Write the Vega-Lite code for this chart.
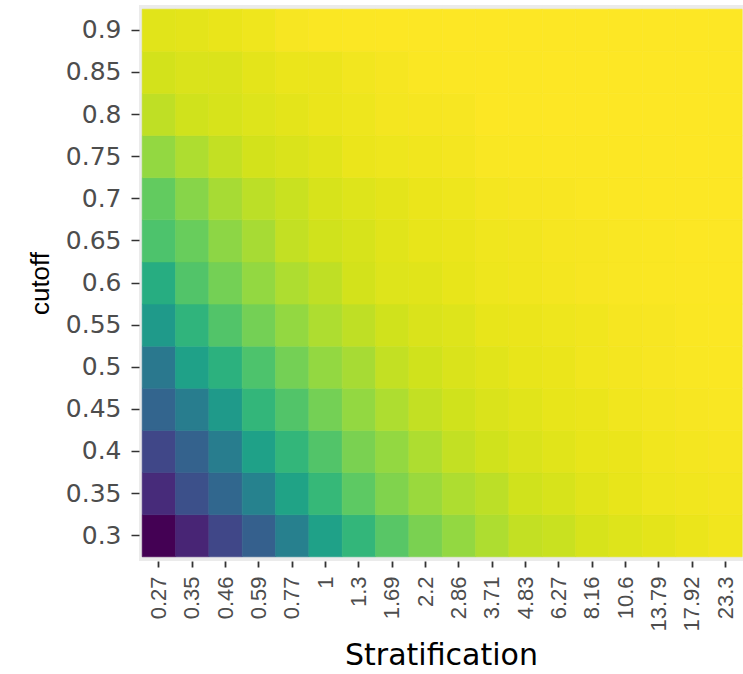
{
  "$schema": "https://vega.github.io/schema/vega-lite/v6.json",
  "width": 604,
  "height": 556,
  "autosize": {"type": "none"},
  "padding": {"left": 139, "top": 5, "right": 0, "bottom": 113},
  "background": "white",
  "config": {"view": {"fill": "#EBEBEB", "stroke": null}},
  "data": {"values": [
    {"Stratification":"0.27","cutoff":0.3,"value":0.00},{"Stratification":"0.35","cutoff":0.3,"value":0.10},{"Stratification":"0.46","cutoff":0.3,"value":0.21},{"Stratification":"0.59","cutoff":0.3,"value":0.30},{"Stratification":"0.77","cutoff":0.3,"value":0.43},{"Stratification":"1","cutoff":0.3,"value":0.57},{"Stratification":"1.3","cutoff":0.3,"value":0.66},{"Stratification":"1.69","cutoff":0.3,"value":0.74},{"Stratification":"2.2","cutoff":0.3,"value":0.80},{"Stratification":"2.86","cutoff":0.3,"value":0.84},{"Stratification":"3.71","cutoff":0.3,"value":0.88},{"Stratification":"4.83","cutoff":0.3,"value":0.91},{"Stratification":"6.27","cutoff":0.3,"value":0.92},{"Stratification":"8.16","cutoff":0.3,"value":0.94},{"Stratification":"10.6","cutoff":0.3,"value":0.95},{"Stratification":"13.79","cutoff":0.3,"value":0.96},{"Stratification":"17.92","cutoff":0.3,"value":0.97},{"Stratification":"23.3","cutoff":0.3,"value":0.98},
    {"Stratification":"0.27","cutoff":0.35,"value":0.12},{"Stratification":"0.35","cutoff":0.35,"value":0.24},{"Stratification":"0.46","cutoff":0.35,"value":0.33},{"Stratification":"0.59","cutoff":0.35,"value":0.44},{"Stratification":"0.77","cutoff":0.35,"value":0.58},{"Stratification":"1","cutoff":0.35,"value":0.67},{"Stratification":"1.3","cutoff":0.35,"value":0.75},{"Stratification":"1.69","cutoff":0.35,"value":0.81},{"Stratification":"2.2","cutoff":0.35,"value":0.85},{"Stratification":"2.86","cutoff":0.35,"value":0.88},{"Stratification":"3.71","cutoff":0.35,"value":0.90},{"Stratification":"4.83","cutoff":0.35,"value":0.93},{"Stratification":"6.27","cutoff":0.35,"value":0.94},{"Stratification":"8.16","cutoff":0.35,"value":0.955},{"Stratification":"10.6","cutoff":0.35,"value":0.965},{"Stratification":"13.79","cutoff":0.35,"value":0.975},{"Stratification":"17.92","cutoff":0.35,"value":0.98},{"Stratification":"23.3","cutoff":0.35,"value":0.985},
    {"Stratification":"0.27","cutoff":0.4,"value":0.21},{"Stratification":"0.35","cutoff":0.4,"value":0.31},{"Stratification":"0.46","cutoff":0.4,"value":0.42},{"Stratification":"0.59","cutoff":0.4,"value":0.57},{"Stratification":"0.77","cutoff":0.4,"value":0.66},{"Stratification":"1","cutoff":0.4,"value":0.73},{"Stratification":"1.3","cutoff":0.4,"value":0.80},{"Stratification":"1.69","cutoff":0.4,"value":0.84},{"Stratification":"2.2","cutoff":0.4,"value":0.88},{"Stratification":"2.86","cutoff":0.4,"value":0.91},{"Stratification":"3.71","cutoff":0.4,"value":0.93},{"Stratification":"4.83","cutoff":0.4,"value":0.945},{"Stratification":"6.27","cutoff":0.4,"value":0.955},{"Stratification":"8.16","cutoff":0.4,"value":0.965},{"Stratification":"10.6","cutoff":0.4,"value":0.97},{"Stratification":"13.79","cutoff":0.4,"value":0.98},{"Stratification":"17.92","cutoff":0.4,"value":0.985},{"Stratification":"23.3","cutoff":0.4,"value":0.99},
    {"Stratification":"0.27","cutoff":0.45,"value":0.32},{"Stratification":"0.35","cutoff":0.45,"value":0.42},{"Stratification":"0.46","cutoff":0.45,"value":0.54},{"Stratification":"0.59","cutoff":0.45,"value":0.66},{"Stratification":"0.77","cutoff":0.45,"value":0.73},{"Stratification":"1","cutoff":0.45,"value":0.79},{"Stratification":"1.3","cutoff":0.45,"value":0.84},{"Stratification":"1.69","cutoff":0.45,"value":0.88},{"Stratification":"2.2","cutoff":0.45,"value":0.91},{"Stratification":"2.86","cutoff":0.45,"value":0.93},{"Stratification":"3.71","cutoff":0.45,"value":0.945},{"Stratification":"4.83","cutoff":0.45,"value":0.955},{"Stratification":"6.27","cutoff":0.45,"value":0.965},{"Stratification":"8.16","cutoff":0.45,"value":0.97},{"Stratification":"10.6","cutoff":0.45,"value":0.98},{"Stratification":"13.79","cutoff":0.45,"value":0.985},{"Stratification":"17.92","cutoff":0.45,"value":0.99},{"Stratification":"23.3","cutoff":0.45,"value":0.993},
    {"Stratification":"0.27","cutoff":0.5,"value":0.40},{"Stratification":"0.35","cutoff":0.5,"value":0.57},{"Stratification":"0.46","cutoff":0.5,"value":0.64},{"Stratification":"0.59","cutoff":0.5,"value":0.72},{"Stratification":"0.77","cutoff":0.5,"value":0.79},{"Stratification":"1","cutoff":0.5,"value":0.84},{"Stratification":"1.3","cutoff":0.5,"value":0.87},{"Stratification":"1.69","cutoff":0.5,"value":0.91},{"Stratification":"2.2","cutoff":0.5,"value":0.93},{"Stratification":"2.86","cutoff":0.5,"value":0.945},{"Stratification":"3.71","cutoff":0.5,"value":0.955},{"Stratification":"4.83","cutoff":0.5,"value":0.965},{"Stratification":"6.27","cutoff":0.5,"value":0.97},{"Stratification":"8.16","cutoff":0.5,"value":0.98},{"Stratification":"10.6","cutoff":0.5,"value":0.985},{"Stratification":"13.79","cutoff":0.5,"value":0.99},{"Stratification":"17.92","cutoff":0.5,"value":0.993},{"Stratification":"23.3","cutoff":0.5,"value":0.995},
    {"Stratification":"0.27","cutoff":0.55,"value":0.54},{"Stratification":"0.35","cutoff":0.55,"value":0.65},{"Stratification":"0.46","cutoff":0.55,"value":0.73},{"Stratification":"0.59","cutoff":0.55,"value":0.79},{"Stratification":"0.77","cutoff":0.55,"value":0.84},{"Stratification":"1","cutoff":0.55,"value":0.88},{"Stratification":"1.3","cutoff":0.55,"value":0.905},{"Stratification":"1.69","cutoff":0.55,"value":0.93},{"Stratification":"2.2","cutoff":0.55,"value":0.945},{"Stratification":"2.86","cutoff":0.55,"value":0.95},{"Stratification":"3.71","cutoff":0.55,"value":0.965},{"Stratification":"4.83","cutoff":0.55,"value":0.97},{"Stratification":"6.27","cutoff":0.55,"value":0.975},{"Stratification":"8.16","cutoff":0.55,"value":0.98},{"Stratification":"10.6","cutoff":0.55,"value":0.988},{"Stratification":"13.79","cutoff":0.55,"value":0.99},{"Stratification":"17.92","cutoff":0.55,"value":0.995},{"Stratification":"23.3","cutoff":0.55,"value":0.997},
    {"Stratification":"0.27","cutoff":0.6,"value":0.62},{"Stratification":"0.35","cutoff":0.6,"value":0.73},{"Stratification":"0.46","cutoff":0.6,"value":0.79},{"Stratification":"0.59","cutoff":0.6,"value":0.84},{"Stratification":"0.77","cutoff":0.6,"value":0.88},{"Stratification":"1","cutoff":0.6,"value":0.905},{"Stratification":"1.3","cutoff":0.6,"value":0.935},{"Stratification":"1.69","cutoff":0.6,"value":0.95},{"Stratification":"2.2","cutoff":0.6,"value":0.955},{"Stratification":"2.86","cutoff":0.6,"value":0.965},{"Stratification":"3.71","cutoff":0.6,"value":0.975},{"Stratification":"4.83","cutoff":0.6,"value":0.98},{"Stratification":"6.27","cutoff":0.6,"value":0.985},{"Stratification":"8.16","cutoff":0.6,"value":0.99},{"Stratification":"10.6","cutoff":0.6,"value":0.993},{"Stratification":"13.79","cutoff":0.6,"value":0.995},{"Stratification":"17.92","cutoff":0.6,"value":0.997},{"Stratification":"23.3","cutoff":0.6,"value":0.998},
    {"Stratification":"0.27","cutoff":0.65,"value":0.72},{"Stratification":"0.35","cutoff":0.65,"value":0.77},{"Stratification":"0.46","cutoff":0.65,"value":0.83},{"Stratification":"0.59","cutoff":0.65,"value":0.87},{"Stratification":"0.77","cutoff":0.65,"value":0.91},{"Stratification":"1","cutoff":0.65,"value":0.93},{"Stratification":"1.3","cutoff":0.65,"value":0.94},{"Stratification":"1.69","cutoff":0.65,"value":0.955},{"Stratification":"2.2","cutoff":0.65,"value":0.965},{"Stratification":"2.86","cutoff":0.65,"value":0.97},{"Stratification":"3.71","cutoff":0.65,"value":0.978},{"Stratification":"4.83","cutoff":0.65,"value":0.982},{"Stratification":"6.27","cutoff":0.65,"value":0.988},{"Stratification":"8.16","cutoff":0.65,"value":0.99},{"Stratification":"10.6","cutoff":0.65,"value":0.993},{"Stratification":"13.79","cutoff":0.65,"value":0.995},{"Stratification":"17.92","cutoff":0.65,"value":0.998},{"Stratification":"23.3","cutoff":0.65,"value":0.999},
    {"Stratification":"0.27","cutoff":0.7,"value":0.76},{"Stratification":"0.35","cutoff":0.7,"value":0.82},{"Stratification":"0.46","cutoff":0.7,"value":0.87},{"Stratification":"0.59","cutoff":0.7,"value":0.90},{"Stratification":"0.77","cutoff":0.7,"value":0.92},{"Stratification":"1","cutoff":0.7,"value":0.94},{"Stratification":"1.3","cutoff":0.7,"value":0.95},{"Stratification":"1.69","cutoff":0.7,"value":0.96},{"Stratification":"2.2","cutoff":0.7,"value":0.97},{"Stratification":"2.86","cutoff":0.7,"value":0.975},{"Stratification":"3.71","cutoff":0.7,"value":0.985},{"Stratification":"4.83","cutoff":0.7,"value":0.99},{"Stratification":"6.27","cutoff":0.7,"value":0.991},{"Stratification":"8.16","cutoff":0.7,"value":0.995},{"Stratification":"10.6","cutoff":0.7,"value":0.997},{"Stratification":"13.79","cutoff":0.7,"value":0.998},{"Stratification":"17.92","cutoff":0.7,"value":0.999},{"Stratification":"23.3","cutoff":0.7,"value":1.0},
    {"Stratification":"0.27","cutoff":0.75,"value":0.84},{"Stratification":"0.35","cutoff":0.75,"value":0.88},{"Stratification":"0.46","cutoff":0.75,"value":0.91},{"Stratification":"0.59","cutoff":0.75,"value":0.935},{"Stratification":"0.77","cutoff":0.75,"value":0.945},{"Stratification":"1","cutoff":0.75,"value":0.955},{"Stratification":"1.3","cutoff":0.75,"value":0.97},{"Stratification":"1.69","cutoff":0.75,"value":0.975},{"Stratification":"2.2","cutoff":0.75,"value":0.98},{"Stratification":"2.86","cutoff":0.75,"value":0.985},{"Stratification":"3.71","cutoff":0.75,"value":0.993},{"Stratification":"4.83","cutoff":0.75,"value":0.995},{"Stratification":"6.27","cutoff":0.75,"value":0.996},{"Stratification":"8.16","cutoff":0.75,"value":0.997},{"Stratification":"10.6","cutoff":0.75,"value":0.998},{"Stratification":"13.79","cutoff":0.75,"value":0.999},{"Stratification":"17.92","cutoff":0.75,"value":1.0},{"Stratification":"23.3","cutoff":0.75,"value":1.0},
    {"Stratification":"0.27","cutoff":0.8,"value":0.905},{"Stratification":"0.35","cutoff":0.8,"value":0.93},{"Stratification":"0.46","cutoff":0.8,"value":0.94},{"Stratification":"0.59","cutoff":0.8,"value":0.95},{"Stratification":"0.77","cutoff":0.8,"value":0.96},{"Stratification":"1","cutoff":0.8,"value":0.97},{"Stratification":"1.3","cutoff":0.8,"value":0.975},{"Stratification":"1.69","cutoff":0.8,"value":0.985},{"Stratification":"2.2","cutoff":0.8,"value":0.988},{"Stratification":"2.86","cutoff":0.8,"value":0.99},{"Stratification":"3.71","cutoff":0.8,"value":0.998},{"Stratification":"4.83","cutoff":0.8,"value":0.999},{"Stratification":"6.27","cutoff":0.8,"value":1.0},{"Stratification":"8.16","cutoff":0.8,"value":1.0},{"Stratification":"10.6","cutoff":0.8,"value":1.0},{"Stratification":"13.79","cutoff":0.8,"value":1.0},{"Stratification":"17.92","cutoff":0.8,"value":1.0},{"Stratification":"23.3","cutoff":0.8,"value":1.0},
    {"Stratification":"0.27","cutoff":0.85,"value":0.935},{"Stratification":"0.35","cutoff":0.85,"value":0.945},{"Stratification":"0.46","cutoff":0.85,"value":0.946},{"Stratification":"0.59","cutoff":0.85,"value":0.96},{"Stratification":"0.77","cutoff":0.85,"value":0.97},{"Stratification":"1","cutoff":0.85,"value":0.972},{"Stratification":"1.3","cutoff":0.85,"value":0.982},{"Stratification":"1.69","cutoff":0.85,"value":0.988},{"Stratification":"2.2","cutoff":0.85,"value":0.995},{"Stratification":"2.86","cutoff":0.85,"value":0.997},{"Stratification":"3.71","cutoff":0.85,"value":0.998},{"Stratification":"4.83","cutoff":0.85,"value":0.999},{"Stratification":"6.27","cutoff":0.85,"value":1.0},{"Stratification":"8.16","cutoff":0.85,"value":1.0},{"Stratification":"10.6","cutoff":0.85,"value":1.0},{"Stratification":"13.79","cutoff":0.85,"value":1.0},{"Stratification":"17.92","cutoff":0.85,"value":1.0},{"Stratification":"23.3","cutoff":0.85,"value":1.0},
    {"Stratification":"0.27","cutoff":0.9,"value":0.955},{"Stratification":"0.35","cutoff":0.9,"value":0.96},{"Stratification":"0.46","cutoff":0.9,"value":0.968},{"Stratification":"0.59","cutoff":0.9,"value":0.976},{"Stratification":"0.77","cutoff":0.9,"value":0.99},{"Stratification":"1","cutoff":0.9,"value":0.995},{"Stratification":"1.3","cutoff":0.9,"value":0.997},{"Stratification":"1.69","cutoff":0.9,"value":0.998},{"Stratification":"2.2","cutoff":0.9,"value":0.999},{"Stratification":"2.86","cutoff":0.9,"value":1.0},{"Stratification":"3.71","cutoff":0.9,"value":1.0},{"Stratification":"4.83","cutoff":0.9,"value":1.0},{"Stratification":"6.27","cutoff":0.9,"value":1.0},{"Stratification":"8.16","cutoff":0.9,"value":1.0},{"Stratification":"10.6","cutoff":0.9,"value":1.0},{"Stratification":"13.79","cutoff":0.9,"value":1.0},{"Stratification":"17.92","cutoff":0.9,"value":1.0},{"Stratification":"23.3","cutoff":0.9,"value":1.0}
  ]},
  "mark": {"type": "rect", "strokeWidth": 0.6, "opacity": 1},
  "encoding": {
    "x": {
      "field": "Stratification",
      "type": "ordinal",
      "sort": ["0.27","0.35","0.46","0.59","0.77","1","1.3","1.69","2.2","2.86","3.71","4.83","6.27","8.16","10.6","13.79","17.92","23.3"],
      "scale": {"paddingInner": 0, "paddingOuter": 0.06, "align": 0.8},
      "axis": {
        "title": "Stratification",
        "zindex": 0,
        "labelAngle": 270,
        "labelAlign": "right",
        "labelBaseline": "middle",
        "labelFont": "Liberation Sans",
        "labelFontSize": 22,
        "labelColor": "#4D4D4D",
        "labelPadding": 9,
        "labelOverlap": false,
        "tickColor": "#333333",
        "tickSize": 6,
        "tickWidth": 1.8,
        "domain": false,
        "grid": false,
        "titleFont": "DejaVu Sans",
        "titleFontSize": 30,
        "titleFontWeight": "normal",
        "titleColor": "black",
        "titlePadding": 9
      }
    },
    "y": {
      "field": "cutoff",
      "type": "ordinal",
      "sort": "descending",
      "scale": {"paddingInner": 0, "paddingOuter": 0.1},
      "axis": {
        "title": "cutoff",
        "zindex": 0,
        "labelFont": "DejaVu Sans",
        "labelFontSize": 25,
        "labelColor": "#4D4D4D",
        "labelPadding": 10,
        "tickColor": "#333333",
        "tickSize": 8,
        "tickWidth": 1.5,
        "domain": false,
        "grid": false,
        "titleFont": "Liberation Sans",
        "titleFontSize": 26,
        "titleFontWeight": "normal",
        "titleColor": "black",
        "titlePadding": 12
      }
    },
    "color": {
      "field": "value",
      "type": "quantitative",
      "scale": {"scheme": "viridis", "domain": [0, 1]},
      "legend": null
    },
    "stroke": {
      "field": "value",
      "type": "quantitative",
      "scale": {"scheme": "viridis", "domain": [0, 1]},
      "legend": null
    }
  }
}
